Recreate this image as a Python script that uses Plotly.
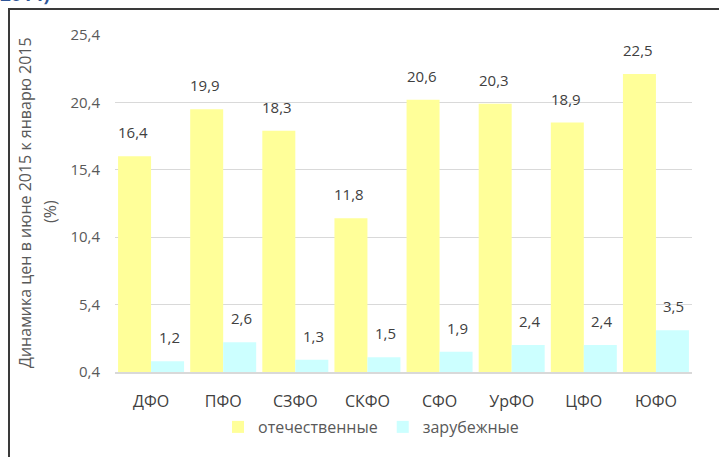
import plotly.graph_objects as go

categories = ["ДФО", "ПФО", "СЗФО", "СКФО", "СФО", "УрФО", "ЦФО", "ЮФО"]
domestic = [16.4, 19.9, 18.3, 11.8, 20.6, 20.3, 18.9, 22.5]
foreign = [1.2, 2.6, 1.3, 1.5, 1.9, 2.4, 2.4, 3.5]
series_names = ["отечественные", "зарубежные"]
y_ticks = [0.4, 5.4, 10.4, 15.4, 20.4, 25.4]
y_title = "Динамика цен в июне 2015 к январю 2015"
y_title2 = "(%)"
top_text = "2014)"

FONT = "Open Sans"
W, H = 719, 457
L, R, T, B = 115, 27, 35, 85
pw, ph = W - L - R, H - T - B

def px_x(x):
    return (x - L) / pw

def px_y(y):
    return (H - B - y) / ph

fig = go.Figure()
fig.add_bar(x=categories, y=domestic, name=series_names[0],
            marker=dict(color="#FFFF99", line=dict(width=0)))
fig.add_bar(x=categories, y=foreign, name=series_names[1],
            marker=dict(color="#CCFFFF", line=dict(width=0)))

ann = []
for vals, shift in ((domestic, -18), (foreign, 18)):
    for c, v in zip(categories, vals):
        ann.append(dict(x=c, y=v, xref="x", yref="y", text=f"{v:.1f}".replace(".", ","),
                        showarrow=False, xshift=shift, yshift=12, yanchor="bottom",
                        font=dict(family=FONT, size=15, color="#404040")))

ann.append(dict(x=px_x(25), y=px_y(203), xref="paper", yref="paper", text=y_title,
                textangle=-90, showarrow=False, xanchor="center", yanchor="middle",
                font=dict(family=FONT, size=16, color="#595959")))
ann.append(dict(x=px_x(50), y=px_y(212), xref="paper", yref="paper", text=y_title2,
                textangle=-90, showarrow=False, xanchor="center", yanchor="middle",
                font=dict(family=FONT, size=16, color="#595959")))
ann.append(dict(x=px_x(-2), y=px_y(9), xref="paper", yref="paper", text="<b>" + top_text + "</b>",
                showarrow=False, xanchor="left", yanchor="bottom",
                font=dict(family=FONT, size=19, color="#2F5597")))

fig.update_layout(
    width=W, height=H,
    margin=dict(l=L, r=R, t=T, b=B, autoexpand=False),
    paper_bgcolor="white", plot_bgcolor="white",
    separators=", ",
    barmode="group", bargap=0.085, bargroupgap=0,
    font=dict(family=FONT, size=15, color="#595959"),
    annotations=ann,
    showlegend=True,
    legend=dict(orientation="h", x=px_x(218), y=px_y(427), xanchor="left", yanchor="middle",
                font=dict(family=FONT, size=16, color="#595959"), itemwidth=30,
                bgcolor="rgba(0,0,0,0)"),
    shapes=[dict(type="rect", xref="paper", yref="paper",
                 x0=px_x(9), x1=px_x(740), y0=px_y(480), y1=px_y(9),
                 line=dict(color="#3A3A3A", width=2), layer="above")],
)
fig.update_xaxes(showgrid=False, showline=True, linecolor="#D9D9D9", linewidth=1.5,
                 ticks="", ticklabelstandoff=14,
                 tickfont=dict(family=FONT, size=16, color="#404040"))
fig.update_yaxes(range=[0.4, 25.4], tickvals=y_ticks,
                 ticktext=[f"{t:.1f}".replace(".", ",") for t in y_ticks],
                 showgrid=True, gridcolor="#D9D9D9", gridwidth=1, zeroline=False,
                 showline=False, ticks="", ticklabelstandoff=14,
                 tickfont=dict(family=FONT, size=15, color="#595959"))

fig.write_html("out.html", config={"displayModeBar": False},
               post_script="document.body.style.margin='0';document.body.style.overflow='hidden';")
